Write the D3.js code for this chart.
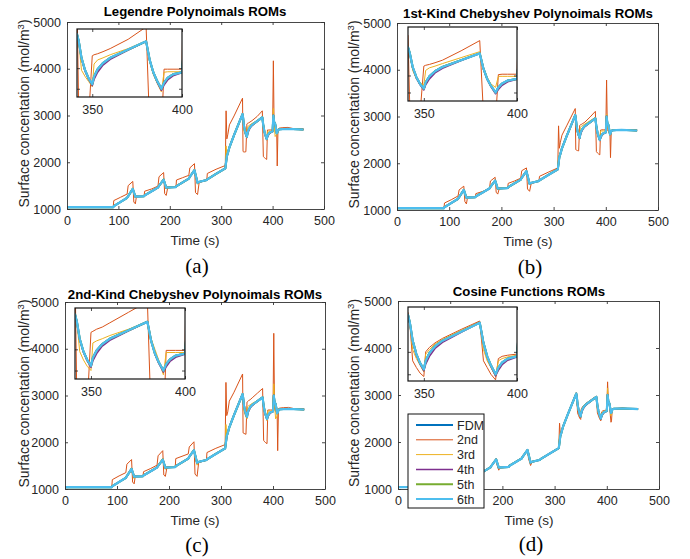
<!DOCTYPE html>
<html>
<head>
<meta charset="utf-8">
<script src="https://cdn.jsdelivr.net/npm/d3@7"></script>
<style>
body { margin: 0; background: #fff; }
svg { display: block; font-family: "Liberation Sans", Arial, sans-serif; }
</style>
</head>
<body>
<div id="vis"></div>
<script>
// shared time grid (s)
const time = [0, 90, 91, 104, 117, 119, 128, 130, 133, 135,
    150, 151, 165, 177, 179, 188, 190, 193, 196,
    212, 213, 225, 237, 239, 248, 250, 254, 257,
    272, 273, 290, 308, 309.5, 311, 313, 316, 325,
    341.5, 342.5, 344, 346, 348, 350, 351, 353, 356, 360,
    370, 380, 382, 384, 386, 388.5, 390, 392, 395, 400,
    401.5, 403, 405, 408, 409, 410.5, 413, 420, 430, 440,
    460];

// FDM reference
const fdm = [1040, 1040, 1060, 1150, 1240, 1275, 1430, 1360, 1262, 1265,
    1275, 1290, 1380, 1460, 1495, 1630, 1560, 1455, 1460,
    1470, 1490, 1570, 1650, 1690, 1830, 1740, 1560, 1580,
    1620, 1635, 1750, 1870, 2000, 2130, 2200, 2320, 2580,
    3030, 2960, 2800, 2680, 2600, 2545, 2620, 2690, 2750, 2800,
    2880, 2960, 2780, 2660, 2580, 2500, 2560, 2605, 2640, 2660,
    3000, 2860, 2820, 2620, 2630, 2690, 2705, 2710, 2712, 2710,
    2700];

// 4th order (all panels, close to FDM)
const ord4 = [1040, 1040, 1060, 1150, 1240, 1275, 1430, 1355, 1258, 1265,
    1275, 1290, 1380, 1460, 1495, 1630, 1555, 1450, 1460,
    1470, 1490, 1570, 1650, 1690, 1830, 1735, 1555, 1580,
    1620, 1635, 1750, 1870, 2010, 2125, 2200, 2320, 2580,
    3030, 2960, 2790, 2670, 2590, 2530, 2590, 2660, 2730, 2785,
    2875, 2960, 2780, 2655, 2570, 2485, 2535, 2585, 2625, 2655,
    3010, 2860, 2815, 2620, 2630, 2690, 2705, 2710, 2712, 2710,
    2700];

// Legendre
const leg2 = [1040, 1045, 1180, 1250, 1320, 1500, 1590, 1150, 1110, 1265,
    1275, 1380, 1430, 1490, 1690, 1780, 1330, 1290, 1460,
    1470, 1620, 1670, 1720, 1880, 1970, 1350, 1310, 1560,
    1620, 1760, 1850, 1930, 3100, 2500, 2600, 2800, 2990,
    3370, 2230, 2220, 2220, 2225, 2820, 2830, 2840, 2860, 2890,
    2980, 3100, 2120, 2100, 2080, 2060, 2690, 2690, 2690, 2690,
    4170, 2700, 2680, 2650, 1920, 2710, 2730, 2740, 2745, 2720,
    2710];
const leg3 = [1040, 1040, 1070, 1155, 1245, 1290, 1450, 1330, 1240, 1265,
    1275, 1300, 1385, 1465, 1510, 1650, 1530, 1430, 1460,
    1470, 1500, 1575, 1655, 1705, 1850, 1700, 1530, 1580,
    1620, 1645, 1755, 1875, 2350, 2150, 2210, 2330, 2585,
    3030, 2960, 2680, 2620, 2570, 2520, 2740, 2780, 2800, 2830,
    2890, 2965, 2760, 2640, 2560, 2470, 2660, 2665, 2665, 2665,
    3150, 2800, 2550, 2600, 2640, 2700, 2705, 2710, 2712, 2710,
    2700];

// 1st-kind Chebyshev
const ch1o2 = [1040, 1045, 1150, 1220, 1300, 1430, 1510, 1180, 1130, 1265,
    1275, 1350, 1400, 1450, 1620, 1700, 1380, 1340, 1460,
    1470, 1570, 1620, 1680, 1840, 1900, 1450, 1400, 1560,
    1620, 1720, 1810, 1900, 2800, 2320, 2450, 2600, 2800,
    3170, 2290, 2280, 2270, 2265, 2810, 2820, 2830, 2850, 2880,
    2990, 3110, 2250, 2220, 2200, 2180, 2710, 2715, 2715, 2715,
    3780, 2720, 2680, 2620, 2120, 2700, 2720, 2720, 2720, 2715,
    2710];
const ch1o3 = [1040, 1040, 1065, 1152, 1242, 1285, 1440, 1340, 1250, 1265,
    1275, 1295, 1382, 1462, 1505, 1640, 1540, 1440, 1460,
    1470, 1495, 1572, 1652, 1700, 1840, 1720, 1545, 1580,
    1620, 1640, 1752, 1872, 2150, 2140, 2205, 2325, 2582,
    3030, 2960, 2760, 2660, 2610, 2590, 2760, 2790, 2810, 2840,
    2910, 2980, 2790, 2680, 2600, 2560, 2690, 2690, 2690, 2690,
    3050, 2830, 2700, 2610, 2630, 2695, 2705, 2710, 2712, 2710,
    2700];

// 2nd-kind Chebyshev
const ch2o2 = [1040, 1045, 1200, 1280, 1350, 1530, 1630, 1150, 1110, 1265,
    1275, 1370, 1440, 1510, 1710, 1820, 1300, 1270, 1460,
    1470, 1650, 1700, 1750, 1900, 2010, 1320, 1270, 1560,
    1620, 1780, 1870, 1950, 3280, 2570, 2650, 2880, 3070,
    3460, 2200, 2190, 2180, 2170, 2860, 2870, 2890, 2910, 2950,
    3050, 3150, 2040, 2010, 1990, 1970, 2690, 2690, 2690, 2690,
    4330, 2700, 2660, 2600, 1820, 2720, 2730, 2740, 2745, 2720,
    2710];
const ch2o3 = [1040, 1040, 1070, 1155, 1245, 1290, 1450, 1320, 1220, 1265,
    1275, 1300, 1385, 1465, 1510, 1655, 1520, 1420, 1460,
    1470, 1500, 1575, 1655, 1705, 1855, 1690, 1510, 1580,
    1620, 1645, 1755, 1875, 2380, 2150, 2210, 2330, 2585,
    3030, 2960, 2680, 2600, 2540, 2500, 2760, 2780, 2800, 2830,
    2890, 2960, 2800, 2700, 2600, 2460, 2670, 2670, 2670, 2670,
    3250, 2820, 2500, 2560, 2640, 2700, 2705, 2710, 2712, 2710,
    2700];

// Cosine functions
const cos2 = [1040, 1040, 1070, 1155, 1245, 1285, 1440, 1320, 1230, 1265,
    1275, 1300, 1385, 1465, 1505, 1645, 1500, 1400, 1460,
    1470, 1500, 1575, 1655, 1700, 1845, 1650, 1500, 1580,
    1620, 1640, 1755, 1875, 2400, 2180, 2230, 2335, 2590,
    3050, 2950, 2620, 2560, 2510, 2480, 2700, 2740, 2780, 2820,
    2900, 2975, 2620, 2560, 2500, 2450, 2640, 2660, 2670, 2680,
    3280, 2830, 2780, 2420, 2450, 2700, 2710, 2715, 2715, 2712,
    2700];
const cos3 = [1040, 1040, 1062, 1151, 1241, 1278, 1432, 1350, 1258, 1265,
    1275, 1292, 1381, 1461, 1497, 1632, 1550, 1450, 1460,
    1470, 1492, 1571, 1651, 1692, 1832, 1730, 1550, 1580,
    1620, 1637, 1751, 1871, 2150, 2140, 2205, 2322, 2582,
    3035, 2955, 2720, 2640, 2580, 2520, 2680, 2720, 2770, 2810,
    2890, 2965, 2720, 2620, 2560, 2480, 2620, 2640, 2655, 2670,
    3150, 2850, 2800, 2560, 2600, 2695, 2705, 2710, 2712, 2710,
    2700];

const seriesNames = ["FDM", "2nd", "3rd", "4th", "5th", "6th"];
const seriesColors = ["#0072BD", "#D95319", "#EDB120", "#7E2F8E", "#77AC30", "#4DBEEE"];
const seriesWidths = [2, 1, 1, 1.5, 2, 2.2];

const panelTitles = ["Legendre Polynoimals ROMs", "1st-Kind Chebyshev Polynoimals ROMs",
    "2nd-Kind Chebyshev Polynoimals ROMs", "Cosine Functions ROMs"];
const panelLetters = ["(a)", "(b)", "(c)", "(d)"];
// 5th and 6th orders coincide with FDM in the figure
const panelSeries = [
    [fdm, leg2, leg3, ord4, fdm, fdm],
    [fdm, ch1o2, ch1o3, ord4, fdm, fdm],
    [fdm, ch2o2, ch2o3, ord4, fdm, fdm],
    [fdm, cos2, cos3, ord4, fdm, fdm]
];

const xTicks = [0, 100, 200, 300, 400, 500];
const yTicks = [1000, 2000, 3000, 4000, 5000];
const insetXTicks = [350, 400];
const insetYTicks = [2500, 2700];
const insetYDomains = [[2420, 3080], [2400, 3270], [2420, 3090], [2440, 3100]];

// layout of each panel (pixels)
const layout = [
    { x0: 67, x1: 324, y0: 22, y1: 209, ix0: 77, ix1: 182, iy0: 29, iy1: 97, cx: 195, lx: 24, letY: 266, titleY: 16 },
    { x0: 397, x1: 658, y0: 23, y1: 210, ix0: 408, ix1: 517, iy0: 27, iy1: 101, cx: 528, lx: 354, letY: 267, titleY: 18 },
    { x0: 65, x1: 325, y0: 302, y1: 489, ix0: 75, ix1: 185, iy0: 308, iy1: 379, cx: 195, lx: 24, letY: 545, titleY: 299 },
    { x0: 398, x1: 659, y0: 301, y1: 489, ix0: 408, ix1: 517, iy0: 307, iy1: 381, cx: 529, lx: 354, letY: 544, titleY: 296 }
];

const W = 690, H = 559;
const axisColor = "#333";

const svg = d3.select("#vis").append("svg")
    .attr("width", W).attr("height", H);

function drawLines(g, x, y, series, clipId) {
    const line = d3.line()
        .x((d, i) => x(time[i]))
        .y(d => y(d));
    const lg = g.append("g").attr("clip-path", "url(#" + clipId + ")");
    series.forEach((vals, k) => {
        lg.append("path")
            .datum(vals)
            .attr("fill", "none")
            .attr("stroke", seriesColors[k])
            .attr("stroke-width", seriesWidths[k])
            .attr("stroke-linejoin", "round")
            .attr("d", line);
    });
}

function drawPanel(p) {
    const L = layout[p];
    const g = svg.append("g");

    const x = d3.scaleLinear().domain([0, 500]).range([L.x0, L.x1]);
    const y = d3.scaleLinear().domain([1000, 5000]).range([L.y1, L.y0]);

    const clipId = "clip" + p;
    g.append("clipPath").attr("id", clipId)
        .append("rect")
        .attr("x", L.x0).attr("y", L.y0)
        .attr("width", L.x1 - L.x0).attr("height", L.y1 - L.y0);

    drawLines(g, x, y, panelSeries[p], clipId);

    // the "100" label of panel (d) sits under the legend box
    const xFmt = p === 3 ? (d => d === 100 ? "" : d) : (d => d);

    // main axes with inward ticks on every side
    g.append("g").attr("transform", "translate(0," + L.y1 + ")")
        .call(d3.axisBottom(x).tickValues(xTicks).tickSizeInner(-3).tickSizeOuter(0).tickPadding(7).tickFormat(xFmt));
    g.append("g").attr("transform", "translate(0," + L.y0 + ")")
        .call(d3.axisTop(x).tickValues(xTicks).tickSizeInner(-3).tickSizeOuter(0).tickFormat(""));
    g.append("g").attr("transform", "translate(" + L.x0 + ",0)")
        .call(d3.axisLeft(y).tickValues(yTicks).tickSizeInner(-3).tickSizeOuter(0).tickPadding(6).tickFormat(d3.format("d")));
    g.append("g").attr("transform", "translate(" + L.x1 + ",0)")
        .call(d3.axisRight(y).tickValues(yTicks).tickSizeInner(-3).tickSizeOuter(0).tickFormat(""));
    g.selectAll(".domain").attr("stroke", axisColor).attr("stroke-width", 0.9);
    g.selectAll(".tick line").attr("stroke", axisColor).attr("stroke-width", 0.9);
    g.selectAll(".tick text").attr("font-family", "Liberation Sans, Arial, sans-serif")
        .attr("font-size", 12.5).attr("fill", "#262626");

    // inset
    const ix = d3.scaleLinear().domain([341.5, 400]).range([L.ix0, L.ix1]);
    const iy = d3.scaleLinear().domain(insetYDomains[p]).range([L.iy1, L.iy0]);
    const ig = svg.append("g");
    ig.append("rect").attr("x", L.ix0).attr("y", L.iy0)
        .attr("width", L.ix1 - L.ix0).attr("height", L.iy1 - L.iy0)
        .attr("fill", "#fff");
    const iclip = "iclip" + p;
    ig.append("clipPath").attr("id", iclip)
        .append("rect")
        .attr("x", L.ix0).attr("y", L.iy0)
        .attr("width", L.ix1 - L.ix0).attr("height", L.iy1 - L.iy0);
    drawLines(ig, ix, iy, panelSeries[p], iclip);

    ig.append("g").attr("transform", "translate(0," + L.iy1 + ")")
        .call(d3.axisBottom(ix).tickValues(insetXTicks).tickSizeInner(-3).tickSizeOuter(0).tickPadding(8));
    ig.append("g").attr("transform", "translate(0," + L.iy0 + ")")
        .call(d3.axisTop(ix).tickValues(insetXTicks).tickSizeInner(-3).tickSizeOuter(0).tickFormat(""));
    ig.append("g").attr("transform", "translate(" + L.ix0 + ",0)")
        .call(d3.axisLeft(iy).tickValues(insetYTicks).tickSizeInner(-3).tickSizeOuter(0).tickFormat(""));
    ig.append("g").attr("transform", "translate(" + L.ix1 + ",0)")
        .call(d3.axisRight(iy).tickValues(insetYTicks).tickSizeInner(-3).tickSizeOuter(0).tickFormat(""));
    ig.selectAll(".domain").attr("stroke", "none");
    ig.selectAll(".tick line").attr("stroke", "#222").attr("stroke-width", 0.8);
    ig.selectAll(".tick text").attr("font-family", "Liberation Sans, Arial, sans-serif")
        .attr("font-size", 12.5).attr("fill", "#262626");
    ig.append("rect").attr("x", L.ix0).attr("y", L.iy0)
        .attr("width", L.ix1 - L.ix0).attr("height", L.iy1 - L.iy0)
        .attr("fill", "none").attr("stroke", "#111").attr("stroke-width", 1.2);

    // texts
    svg.append("text").attr("x", L.cx).attr("y", L.titleY)
        .attr("text-anchor", "middle").attr("font-weight", "bold")
        .attr("font-size", 13.2).attr("fill", "#000")
        .text(panelTitles[p]);
    svg.append("text").attr("x", L.cx).attr("y", L.y1 + 36)
        .attr("text-anchor", "middle").attr("font-size", 13.5).attr("fill", "#262626")
        .text("Time (s)");
    const yl = svg.append("text")
        .attr("transform", "translate(" + (L.lx + 5) + "," + ((L.y0 + L.y1) / 2 - 2) + ") rotate(-90)")
        .attr("text-anchor", "middle").attr("font-size", 14).attr("fill", "#262626");
    yl.append("tspan").text("Surface concentation (mol/m");
    yl.append("tspan").attr("font-size", 9.5).attr("dy", -5).text("3");
    yl.append("tspan").attr("dy", 5).text(")");
    svg.append("text").attr("x", L.cx + 2).attr("y", L.letY + 7)
        .attr("text-anchor", "middle")
        .attr("font-family", "Liberation Serif, Times New Roman, serif")
        .attr("font-size", 21).attr("fill", "#000")
        .text(panelLetters[p]);
}

for (let p = 0; p < 4; p++) drawPanel(p);

// legend in panel (d)
const leg = svg.append("g");
const lgX = 408, lgY = 414, lgW = 76, lgH = 94;
leg.append("rect").attr("x", lgX).attr("y", lgY).attr("width", lgW).attr("height", lgH)
    .attr("fill", "#fff").attr("stroke", "#111").attr("stroke-width", 1);
seriesNames.forEach((name, k) => {
    const yy = lgY + 11 + k * 14.8;
    leg.append("line").attr("x1", lgX + 8).attr("x2", lgX + 45)
        .attr("y1", yy).attr("y2", yy)
        .attr("stroke", seriesColors[k]).attr("stroke-width", seriesWidths[k]);
    leg.append("text").attr("x", lgX + 49).attr("y", yy + 4.5)
        .attr("font-size", 12.5).attr("fill", "#262626").text(name);
});
</script>
</body>
</html>
